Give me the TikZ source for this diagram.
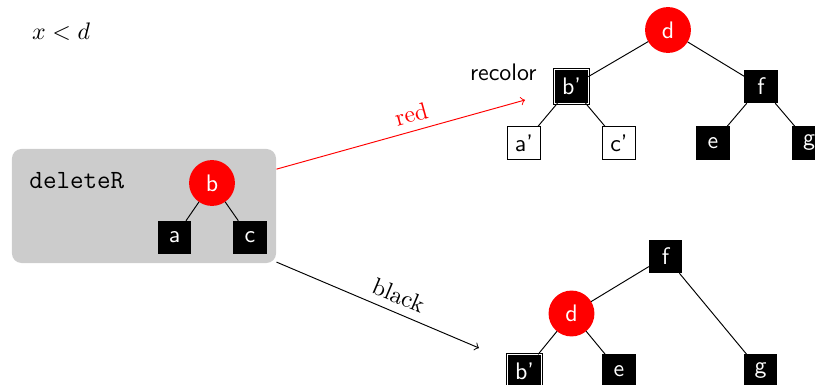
\documentclass[tikz,border=0pt]{standalone}
\usepackage{amsmath, amssymb}
\usepackage{tkz-graph}
\usetikzlibrary{arrows}
\usetikzlibrary{shapes}

\begin{document}
\begin{tikzpicture}[x = 0.4184pt, y = -0.4184pt, font=\sffamily]
	\tikzstyle{VertexStyle} = []
	\tikzstyle{EdgeStyle} = [line width = 0.4pt]
	\tikzstyle{LabelStyle} = []
	\tikzstyle{redStyle}=[shape = circle, minimum size = 19.2pt, inner sep = 0pt, fill = red, text = white]
	\tikzstyle{blackStyle}=[shape = rectangle, minimum size = 14pt, inner sep = 0pt, fill = black, text = white]
	\tikzstyle{recolorStyle}=[blackStyle, draw, double = white]
	\tikzstyle{whiteStyle}=[shape = rectangle, minimum size = 14pt, inner sep = 0pt, draw]
	\useasboundingbox (0,0) rectangle (815,385);
	\node (cond) at (61,32) {$x < d$};
	% deleteR box
	\node[fill = black!20, rounded corners = 4pt, minimum width = 110.5pt, minimum height = 47.7pt] (box) at (144,206) {};
	\node[anchor = base west, inner sep = 0pt, font = \ttfamily\fontsize{11}{13}\selectfont] (name) at (29,188) {deleteR};
	\Vertex[style = redStyle, x = 212, y = 183, L = {b}]{b0}
	\Vertex[style = blackStyle, x = 174.5, y = 237.5, L = {a}]{a0}
	\Vertex[style = blackStyle, x = 250, y = 237.5, L = {c}]{c0}
	\Edge[lw = 0.4pt](b0)(a0)
	\Edge[lw = 0.4pt](b0)(c0)
	% red case
	\Vertex[style = redStyle, x = 668, y = 30, L = {d}]{d1}
	\Vertex[style = recolorStyle, x = 571.5, y = 86.5, L = {b'}]{b1}
	\Vertex[style = blackStyle, x = 761, y = 86.5, L = {f}]{f1}
	\Vertex[style = whiteStyle, x = 524, y = 143, L = {a'}]{a1}
	\Vertex[style = whiteStyle, x = 619, y = 143, L = {c'}]{c1}
	\Vertex[style = blackStyle, x = 713, y = 143, L = {e}]{e1}
	\Vertex[style = blackStyle, x = 809, y = 143, L = {g}]{g1}
	\Edge[lw = 0.4pt](d1)(b1)
	\Edge[lw = 0.4pt](d1)(f1)
	\Edge[lw = 0.4pt](b1)(a1)
	\Edge[lw = 0.4pt](b1)(c1)
	\Edge[lw = 0.4pt](f1)(e1)
	\Edge[lw = 0.4pt](f1)(g1)
	\node[anchor = east] (recolor) at (545,72) {recolor};
	% black case
	\Vertex[style = blackStyle, x = 665.5, y = 256.5, L = {f}]{f2}
	\Vertex[style = redStyle, x = 571.5, y = 313.5, L = {d}]{d2}
	\Vertex[style = recolorStyle, x = 524.5, y = 371, L = {b'}]{b2}
	\Vertex[style = blackStyle, x = 619, y = 371, L = {e}]{e2}
	\Vertex[style = blackStyle, x = 760.5, y = 371, L = {g}]{g2}
	\Edge[lw = 0.4pt](f2)(d2)
	\Edge[lw = 0.4pt](f2)(g2)
	\Edge[lw = 0.4pt](d2)(b2)
	\Edge[lw = 0.4pt](d2)(e2)
	% arrows
	\coordinate (redEnd) at (525,100);
	\coordinate (blackEnd) at (479,348);
	\draw[->, red] (box) -- node[pos = 0.56, above, sloped, font = \rmfamily] {red} (redEnd);
	\draw[->] (box) -- node[pos = 0.57, above, sloped, font = \rmfamily] {black} (blackEnd);
\end{tikzpicture}
\end{document}
